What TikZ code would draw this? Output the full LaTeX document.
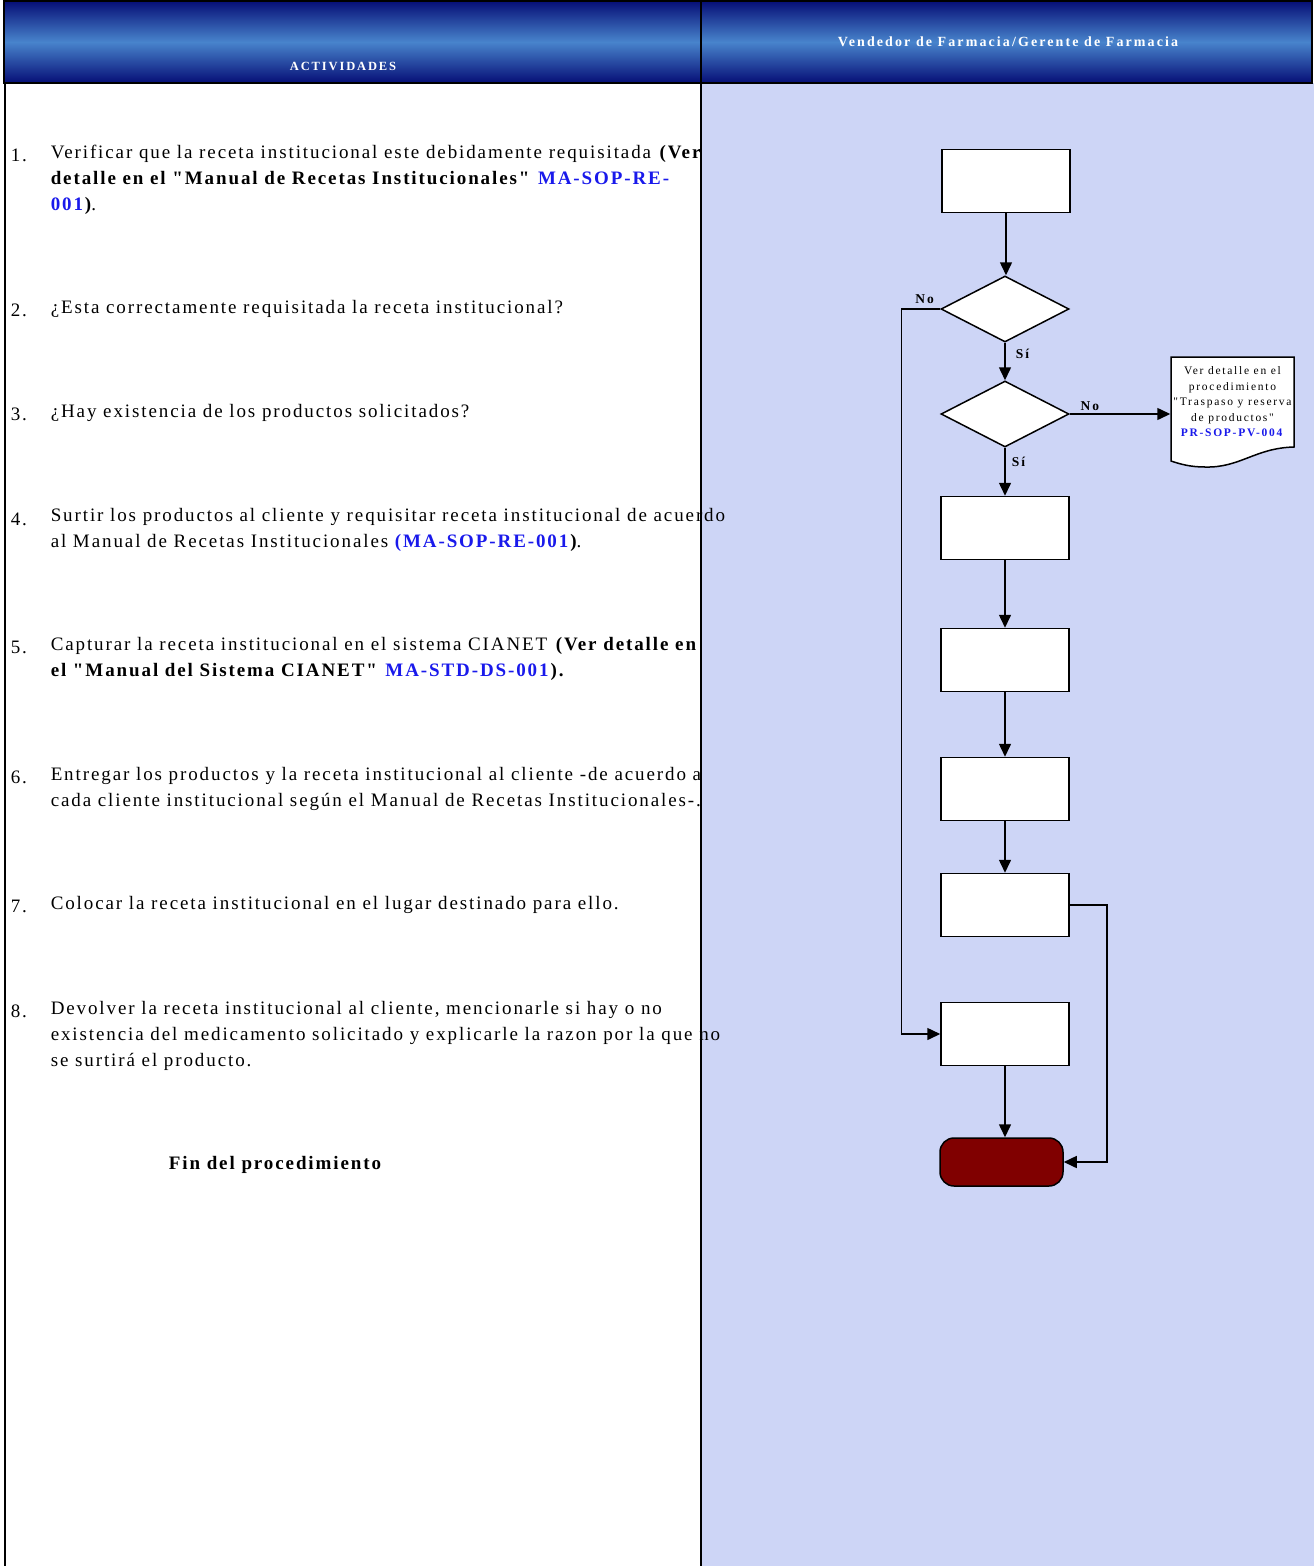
\documentclass[tikz,border=0pt]{standalone}
\usepackage{fontspec}
\setmainfont{Liberation Serif}
\usepackage{xcolor}
\usepackage{tikz}
\usetikzlibrary{arrows.meta}
\usetikzlibrary{shapes.geometric}
\definecolor{lane}{RGB}{205,213,246}
\definecolor{navy}{RGB}{6,14,118}
\definecolor{midblue}{RGB}{72,132,204}
\definecolor{refblue}{RGB}{25,25,235}
\definecolor{stopred}{RGB}{128,0,0}
\newfontfamily\actfont[LetterSpace=10]{Liberation Serif}
\newfontfamily\headfont[LetterSpace=15]{Liberation Serif}
\newcommand{\codigo}[1]{\textcolor{refblue}{\textbf{#1}}}

\begin{document}
\begin{tikzpicture}[
  x=1pt, y=-1pt,
  line width=1.5pt,
  >={Triangle[length=13pt,width=12pt]}
]
\tikzset{
    actbox/.style = {rectangle, draw=black, fill=white, minimum width=128pt, minimum height=63pt, inner sep=0pt},
    decision/.style = {diamond, draw=black, fill=white, minimum width=128pt, minimum height=66pt, inner sep=0pt},
    stopbox/.style = {rectangle, rounded corners=14pt, draw=black, fill=stopred, minimum width=123pt, minimum height=48pt},
    acttext/.style = {anchor=west, align=left, inner sep=0pt, font=\actfont\fontsize{19}{26}\selectfont},
    numtext/.style = {anchor=west, inner sep=0pt, font=\actfont\fontsize{19}{26}\selectfont},
    lbl/.style = {font=\headfont\bfseries\fontsize{13.5}{15}\selectfont, inner sep=2pt},
    headtext/.style = {text=white, font=\headfont\bfseries\fontsize{14}{16}\selectfont}
}
\useasboundingbox (0,0) rectangle (1314,1566);

% carril y encabezado
\fill[lane] (701,83) rectangle (1314,1566);
\shade[top color=navy, bottom color=navy, middle color=midblue] (4,1) rectangle (1312,83);
\draw[line width=2pt] (4,1) rectangle (1312,83);
\node[headtext, font=\headfont\bfseries\fontsize{12.5}{14}\selectfont] (hact) at (343,66) {ACTIVIDADES};
\node[headtext] (hven) at (1008,42) {Vendedor de Farmacia/Gerente de Farmacia};

% actividades
\node[numtext] (n1) at (10,155) {1.};
\node[acttext] (t1) at (50,180) {Verificar que la receta institucional este debidamente requisitada \textbf{(Ver}\\
\textbf{detalle en el "Manual de Recetas Institucionales"} \codigo{MA-SOP-RE-}\\
\codigo{001}\textbf{)}.};
\node[numtext] (n2) at (10,310) {2.};
\node[acttext] (t2) at (50,309) {¿Esta correctamente requisitada la receta institucional?};
\node[numtext] (n3) at (10,414) {3.};
\node[acttext] (t3) at (50,413) {¿Hay existencia de los productos solicitados?};
\node[numtext] (n4) at (10,519) {4.};
\node[acttext] (t4) at (50,530) {Surtir los productos al cliente y requisitar receta institucional de acuerdo\\
al Manual de Recetas Institucionales \codigo{(MA-SOP-RE-001}\textbf{)}.};
\node[numtext] (n5) at (10,647) {5.};
\node[acttext] (t5) at (50,659) {Capturar la receta institucional en el sistema CIANET \textbf{(Ver detalle en}\\
\textbf{el "Manual del Sistema CIANET"} \codigo{MA-STD-DS-001}\textbf{).}};
\node[numtext] (n6) at (10,777) {6.};
\node[acttext] (t6) at (50,789) {Entregar los productos y la receta institucional al cliente -de acuerdo a\\
cada cliente institucional según el Manual de Recetas Institucionales-.};
\node[numtext] (n7) at (10,906) {7.};
\node[acttext] (t7) at (50,905) {Colocar la receta institucional en el lugar destinado para ello.};
\node[numtext] (n8) at (10,1011) {8.};
\node[acttext] (t8) at (50,1036) {Devolver la receta institucional al cliente, mencionarle si hay o no\\
existencia del medicamento solicitado y explicarle la razon por la que no\\
se surtirá el producto.};
\node[font=\actfont\bfseries\fontsize{19}{26}\selectfont] (fin) at (275,1165) {Fin del procedimiento};

% lineas de columnas
\draw[line width=2pt] (5,83) -- (5,1566);
\draw[line width=2pt] (701,1) -- (701,1566);
\draw[line width=2pt] (4,83) -- (1312,83);

% diagrama
\node[actbox] (b1) at (1006,181) {};
\node[decision] (d1) at (1005,309) {};
\node[decision] (d2) at (1005,414) {};
\node[actbox] (b2) at (1005,528) {};
\node[actbox] (b3) at (1005,660) {};
\node[actbox] (b4) at (1005,789) {};
\node[actbox] (b5) at (1005,905) {};
\node[actbox] (b6) at (1005,1034) {};
\node[stopbox] (stop) at (1001.5,1162) {};

\draw[fill=white] (1171,357) -- (1294,357) -- (1294,447)
  .. controls (1255,448) and (1240,468) .. (1205,467)
  .. controls (1190,467) and (1180,464) .. (1171,461) -- cycle;
\node[align=center, minimum width=123pt, minimum height=90pt, font=\headfont\fontsize{11.5}{15.5}\selectfont, inner sep=0pt] (doc) at (1232.5,402)
  {Ver detalle en el\\ procedimiento\\ "Traspaso y reserva\\ de productos"\\ \codigo{PR-SOP-PV-004}};

\draw[->] (b1) -- (b1 |- d1.north);
\draw[->] (d1) -- node[lbl, anchor=west, pos=0.3, xshift=8pt] {Sí} (d2);
\draw[->] (d1.west) -- ++(-39,0) node[lbl, pos=0.4, above, yshift=3pt] {No} |- (b6.west);
\draw[->] (d2.east) -- node[lbl, above, pos=0.2, yshift=1pt] {No} (d2.east -| doc.west);
\draw[->] (d2) -- node[lbl, anchor=west, pos=0.3, xshift=4pt] {Sí} (b2);
\draw[->] (b2) -- (b3);
\draw[->] (b3) -- (b4);
\draw[->] (b4) -- (b5);
\draw[->] (b5.east) -- ++(37,0) |- (stop.east);
\draw[->] (b6) -- (b6 |- stop.north);

\end{tikzpicture}
\end{document}
